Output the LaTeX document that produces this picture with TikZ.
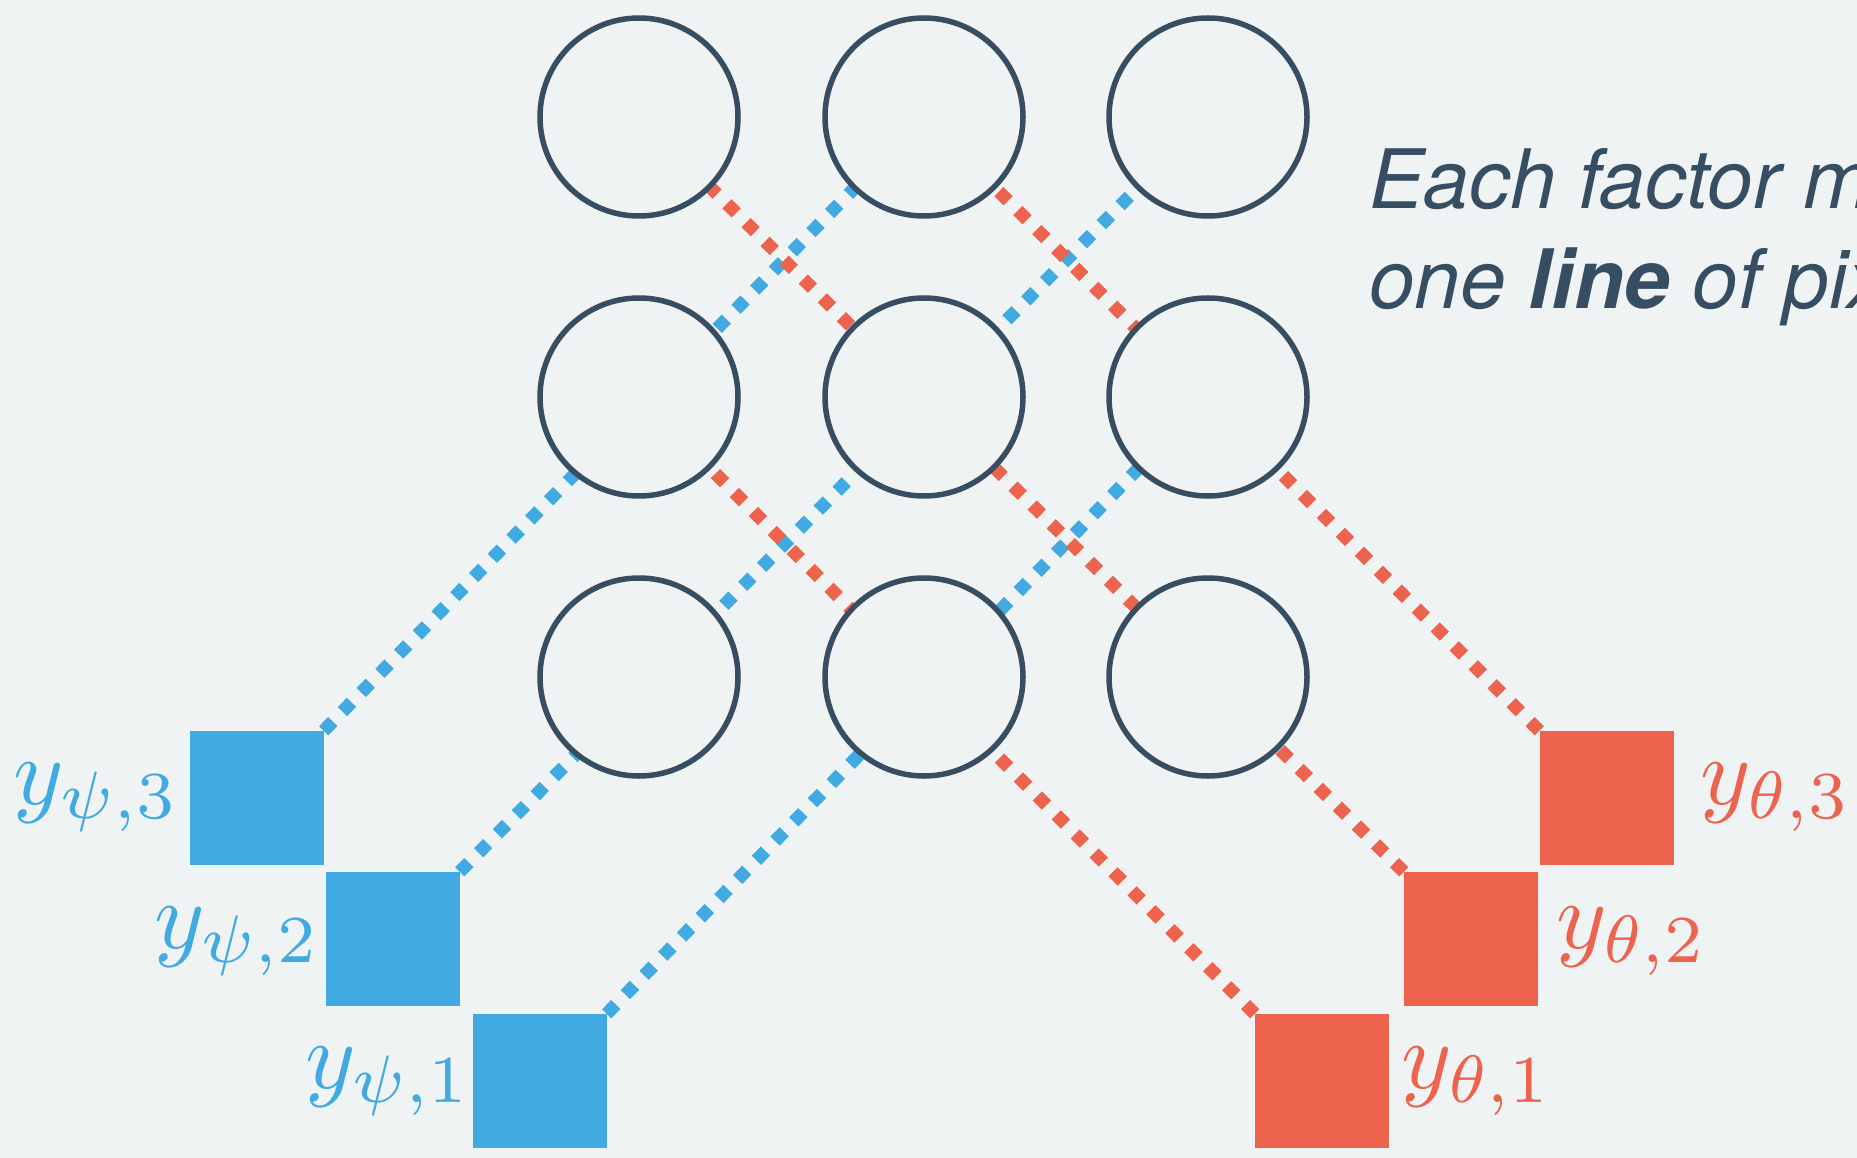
\documentclass[tikz,border=0pt]{standalone}
\usepackage{fontspec}
\newfontfamily\heros{TeX Gyre Heros}
\definecolor{bgc}{RGB}{239,243,244}
\definecolor{slate}{RGB}{55,78,98}
\definecolor{blu}{RGB}{65,170,226}
\definecolor{rd}{RGB}{238,99,77}
\newcommand{\biglab}[1]{\scalebox{9.6}{$#1$}}
\tikzset{
  var/.style={circle,draw=slate,line width=5.5pt,fill=bgc,minimum size=198pt,inner sep=0pt},
  fac/.style={rectangle,minimum size=134pt,inner sep=0pt},
  bfac/.style={fac,fill=blu},
  rfac/.style={fac,fill=rd},
  dots/.style={line width=13pt,dash pattern=on 13pt off 13.8pt,line cap=butt},
  bline/.style={dots,draw=blu},
  rline/.style={dots,draw=rd},
  lab/.style={inner sep=0pt},
  txt/.style={inner sep=0pt,anchor=base west,text=slate,font=\heros\fontsize{82}{99}\selectfont\itshape}
}
\begin{document}
\begin{tikzpicture}[x=1pt,y=-1pt]
\fill[bgc] (0,0) rectangle (1857,1158);
\useasboundingbox (0,0) rectangle (1857,1158);
% variable positions
\coordinate (p11) at (639,117);  \coordinate (p12) at (924,117);  \coordinate (p13) at (1208,117);
\coordinate (p21) at (639,397);  \coordinate (p22) at (924,397);  \coordinate (p23) at (1208,397);
\coordinate (p31) at (639,677);  \coordinate (p32) at (924,677);  \coordinate (p33) at (1208,677);
% factors
\node[bfac] (b3) at (256.5,798) {};
\node[bfac] (b2) at (392.5,939) {};
\node[bfac] (b1) at (539.5,1081) {};
\node[rfac] (r3) at (1606.5,798) {};
\node[rfac] (r2) at (1471,939) {};
\node[rfac] (r1) at (1322,1081) {};
% connectors
\draw[bline] (b3.north east) -- (p12);
\draw[bline] (b2.north east) -- (p13);
\draw[bline] (b1.north east) -- (p23);
\draw[rline] (r3.north west) -- (p12);
\draw[rline] (r2.north west) -- (p11);
\draw[rline] (r1.north west) -- (p21);
% squares on top of the connector ends
\node[bfac] at (b3) {};
\node[bfac] at (b2) {};
\node[bfac] at (b1) {};
\node[rfac] at (r3) {};
\node[rfac] at (r2) {};
\node[rfac] at (r1) {};
% circles
\foreach \r in {1,2,3}{\foreach \c in {1,2,3}{\node[var] (c\r\c) at (p\r\c) {};}}
% labels
\node[lab,text=blu,anchor=base east] (lb3) at (180,804) {\biglab{y_{\psi,3}}};
\node[lab,text=blu,anchor=base east] (lb2) at (321,948) {\biglab{y_{\psi,2}}};
\node[lab,text=blu,anchor=base east] (lb1) at (472,1088) {\biglab{y_{\psi,1}}};
\node[lab,text=rd,anchor=base west] (lr3) at (1700,804) {\biglab{y_{\theta,3}}};
\node[lab,text=rd,anchor=base west] (lr2) at (1556,948) {\biglab{y_{\theta,2}}};
\node[lab,text=rd,anchor=base west] (lr1) at (1401,1088) {\biglab{y_{\theta,1}}};
% text (cut at the right edge, as in the reference)
\begin{scope}
\clip (0,0) rectangle (1857,1158);
\node[txt] (t1) at (1369,209) {Each factor m};
\node[txt] (t2) at (1369,308) {one \textbf{line} of pix};
\end{scope}
\end{tikzpicture}
\end{document}
